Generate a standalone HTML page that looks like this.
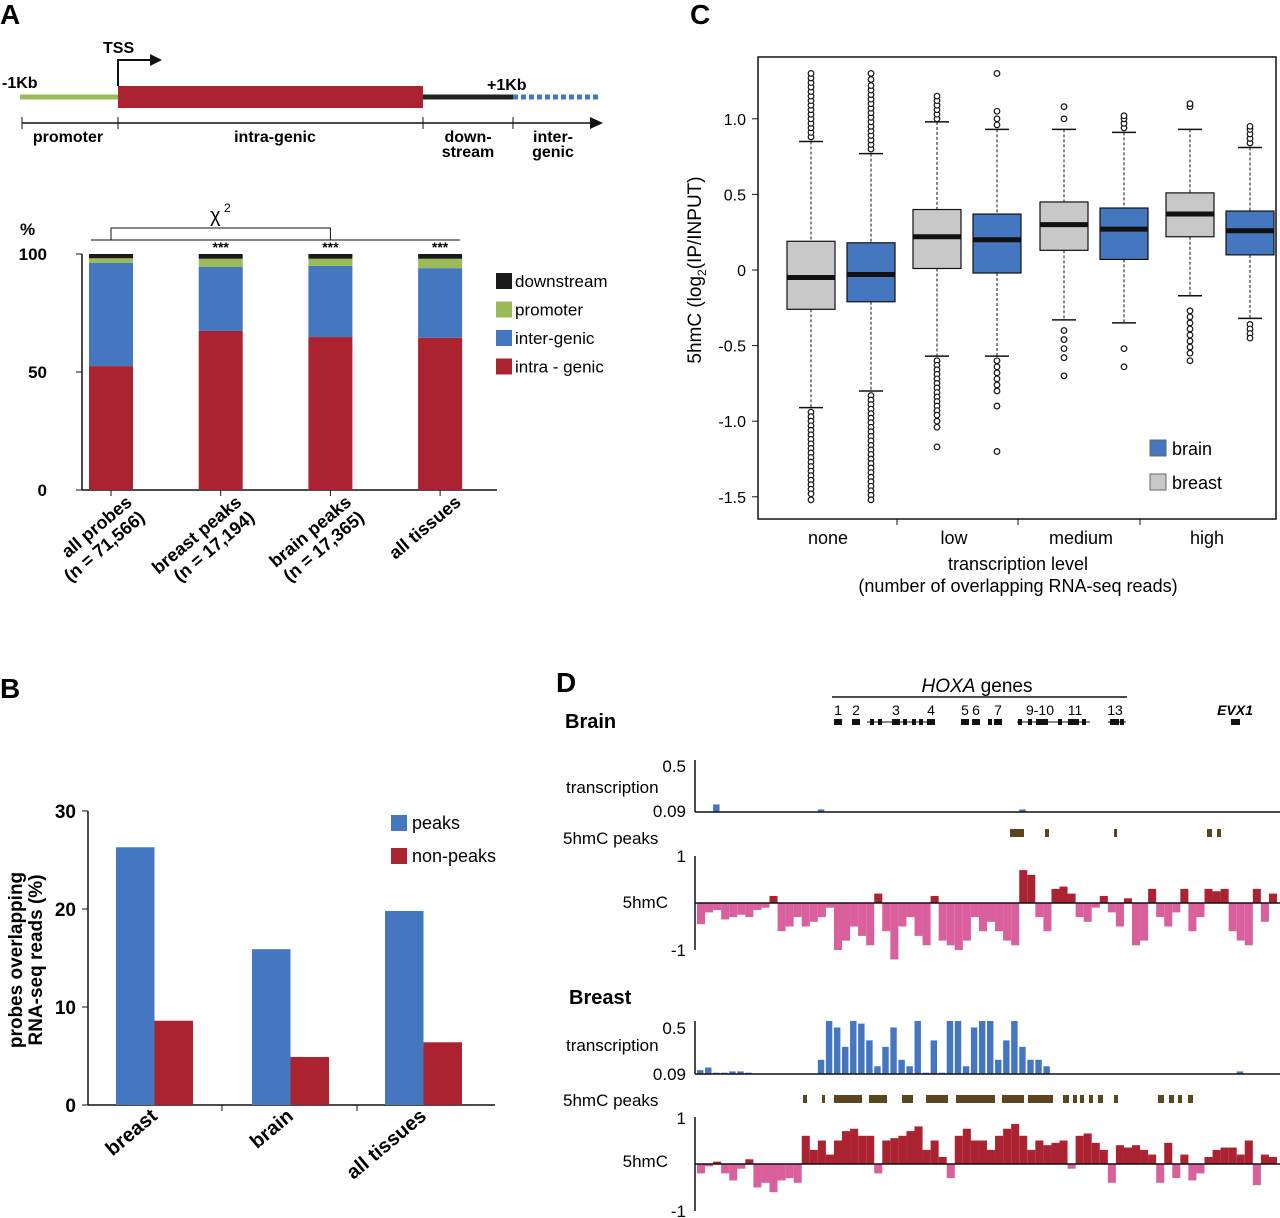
<!DOCTYPE html>
<html><head><meta charset="utf-8"><style>
body{margin:0;background:#fff}
svg{display:block;font-family:"Liberation Sans",Arial,sans-serif}
</style></head><body>
<svg id="fig" width="1280" height="1218" viewBox="0 0 1280 1218" xmlns="http://www.w3.org/2000/svg">
<!-- Panel letters -->
<text x="0" y="24" font-size="28" font-weight="bold">A</text>
<text x="0" y="698" font-size="28" font-weight="bold">B</text>
<text x="690" y="24" font-size="28" font-weight="bold">C</text>
<text x="556" y="692" font-size="28" font-weight="bold">D</text>

<!-- Gene diagram A -->
<g>
<line x1="20" y1="97" x2="118" y2="97" stroke="#9bbb59" stroke-width="5"/>
<rect x="118" y="86" width="305" height="22" fill="#ab2231"/>
<line x1="423" y1="97" x2="513" y2="97" stroke="#222" stroke-width="5"/>
<line x1="513" y1="97" x2="600" y2="97" stroke="#4577c0" stroke-width="5" stroke-dasharray="5,3"/>
<polyline points="118,86 118,60 152,60" fill="none" stroke="#111" stroke-width="2"/>
<polygon points="150,54 162,60 150,66" fill="#111"/>
<text x="103" y="53" font-size="16" font-weight="bold">TSS</text>
<text x="2" y="88" font-size="16" font-weight="bold">-1Kb</text>
<text x="487" y="90" font-size="16" font-weight="bold">+1Kb</text>
<line x1="22" y1="123" x2="596" y2="123" stroke="#111" stroke-width="1.5"/>
<polygon points="590,117 603,123 590,129" fill="#111"/>
<line x1="22" y1="117" x2="22" y2="129" stroke="#111"/><line x1="118" y1="117" x2="118" y2="129" stroke="#111"/>
<line x1="423" y1="117" x2="423" y2="129" stroke="#111"/><line x1="513" y1="117" x2="513" y2="129" stroke="#111"/>
<g font-size="16" font-weight="bold" text-anchor="middle">
<text x="68" y="142">promoter</text><text x="275" y="142">intra-genic</text>
<text x="468" y="142">down-</text><text x="468" y="157">stream</text>
<text x="553" y="142">inter-</text><text x="553" y="157">genic</text></g>
</g>
<g id="chartA"></g>
<g id="chartB"></g>
<g id="chartC"></g>
<g id="chartD"></g>
</svg>
<script>
// ---------- Panel A data ----------
const aCats = ["all probes|(n = 71,566)","breast peaks|(n = 17,194)","brain peaks|(n = 17,365)","all tissues"];
const aIntra = [52.5, 67.4, 64.8, 64.5];
const aInter = [43.7, 27.1, 30.2, 29.5];
const aPromoter = [2.0, 3.5, 3.0, 4.0];
const aDown = [1.8, 2.0, 2.0, 2.0];
const aTicks = [0, 50, 100];
// ---------- Panel B data ----------
const bCats = ["breast","brain","all tissues"];
const bPeaks = [26.3, 15.9, 19.8];
const bNonPeaks = [8.6, 4.9, 6.4];
const bTicks = [0, 10, 20, 30];
// ---------- Panel C data ----------
const cGroups = ["none","low","medium","high"];
const cTicks = [1.0, 0.5, 0, -0.5, -1.0, -1.5];
const cTickLabels = ["1.0","0.5","0","-0.5","-1.0","-1.5"];
// order per group: breast, brain ; [whiskerLo, q1, median, q3, whiskerHi]
const cBreast = [[-0.91,-0.26,-0.05,0.19,0.85],[-0.57,0.01,0.22,0.40,0.98],[-0.33,0.13,0.30,0.45,0.93],[-0.17,0.22,0.37,0.51,0.93]];
const cBrain  = [[-0.80,-0.21,-0.03,0.18,0.77],[-0.57,-0.02,0.20,0.37,0.93],[-0.35,0.07,0.27,0.41,0.91],[-0.32,0.10,0.26,0.39,0.81]];
const cBreastOut = [
 [0.88,0.91,0.94,0.97,1.0,1.03,1.06,1.09,1.12,1.15,1.18,1.21,1.24,1.27,1.3,-0.94,-0.97,-1.0,-1.03,-1.06,-1.09,-1.12,-1.15,-1.18,-1.21,-1.24,-1.27,-1.3,-1.33,-1.36,-1.39,-1.42,-1.45,-1.48,-1.52],
 [1.0,1.03,1.06,1.09,1.12,1.15,-0.6,-0.63,-0.66,-0.69,-0.72,-0.75,-0.78,-0.81,-0.84,-0.87,-0.9,-0.93,-0.96,-1.0,-1.04,-1.17],
 [1.0,1.08,-0.4,-0.46,-0.52,-0.58,-0.7],
 [1.08,1.1,-0.27,-0.31,-0.35,-0.39,-0.43,-0.47,-0.51,-0.55,-0.6]];
const cBrainOut = [
 [0.8,0.83,0.86,0.89,0.92,0.95,0.98,1.01,1.04,1.07,1.1,1.13,1.16,1.19,1.22,1.26,1.3,-0.83,-0.86,-0.89,-0.92,-0.95,-0.98,-1.01,-1.04,-1.07,-1.1,-1.13,-1.16,-1.19,-1.22,-1.25,-1.28,-1.31,-1.34,-1.37,-1.4,-1.43,-1.46,-1.49,-1.52],
 [0.96,1.0,1.05,1.3,-0.6,-0.64,-0.68,-0.72,-0.76,-0.8,-0.9,-1.2],
 [0.94,0.97,1.0,1.02,-0.52,-0.64],
 [0.84,0.87,0.9,0.93,0.95,-0.36,-0.39,-0.42,-0.45]];
// ---------- Panel D data ----------
const dBrainTx = [0,0,0.15,0,0,0,0,0,0,0,0,0,0,0,0,0.11,0,0,0,0,0,0,0,0,0,0,0,0,0,0,0,0,0,0,0,0,0,0,0,0,0.11,0,0,0,0,0,0,0,0,0,0,0,0,0,0,0,0,0,0,0,0,0,0,0,0,0,0,0,0,0,0,0];
const dBreastTx = [0.12,0.14,0.10,0.10,0.11,0.11,0.10,0.09,0.09,0.09,0.09,0.09,0.09,0.09,0.09,0.20,0.50,0.45,0.30,0.50,0.48,0.35,0.15,0.30,0.45,0.20,0.15,0.50,0.10,0.35,0.10,0.50,0.50,0.15,0.45,0.50,0.50,0.20,0.35,0.50,0.30,0.20,0.20,0.15,0.09,0.09,0.09,0.09,0.09,0.09,0.09,0.09,0.09,0.09,0.09,0.09,0.09,0.09,0.09,0.09,0.09,0.09,0.09,0.09,0.09,0.09,0.09,0.11,0.09,0.09,0.09,0.09];
const dBrain5hmC = [-0.45,-0.2,-0.15,-0.35,-0.3,-0.25,-0.3,-0.15,-0.1,0.15,-0.6,-0.5,-0.3,-0.5,-0.4,-0.3,-0.1,-1.0,-0.8,-0.5,-0.7,-0.9,0.2,-0.6,-1.2,-0.5,-0.3,-0.7,-0.9,0.15,-0.8,-0.9,-1.0,-0.8,-0.3,-0.6,-0.4,-0.6,-0.8,-0.9,0.7,0.6,-0.3,-0.6,0.3,0.35,0.2,-0.3,-0.4,-0.1,0.15,-0.2,-0.5,0.1,-0.9,-0.8,0.3,-0.3,-0.5,-0.2,0.3,-0.6,-0.3,0.3,0.25,0.3,-0.6,-0.8,-0.9,0.3,-0.4,0.2];
const dBreast5hmC = [-0.2,-0.05,0.05,-0.2,-0.35,-0.1,0.1,-0.5,-0.4,-0.6,-0.35,-0.3,-0.4,0.6,0.3,0.5,0.2,0.5,0.7,0.75,0.6,0.6,-0.2,0.5,0.55,0.6,0.7,0.8,0.3,0.5,0.15,-0.3,0.6,0.75,0.5,0.5,0.3,0.6,0.75,0.85,0.6,0.3,0.5,0.4,0.45,0.5,-0.1,0.6,0.65,0.45,0.3,-0.4,0.4,0.35,0.4,0.3,0.2,-0.4,0.45,-0.3,0.2,-0.35,-0.2,0.15,0.3,0.35,0.35,0.2,0.5,-0.45,0.2,0.15];
const dBrainPeakStart = [1010,1045,1114,1207,1217];
const dBrainPeakEnd   = [1024,1049,1117,1212,1221];
const dBreastPeakStart = [803,822,834,869,902,926,956,1002,1028,1063,1073,1080,1089,1098,1114,1158,1169,1178,1188];
const dBreastPeakEnd   = [807,825,862,887,913,948,995,1024,1053,1069,1077,1084,1093,1103,1118,1164,1174,1182,1193];
const geneNames = ["1","2","3","4","5","6","7","9-10","11","13"];
const genePos = [838,856,896,931,965,976,998,1040,1075,1115];

const NS="http://www.w3.org/2000/svg";
function mk(parent,tag,attrs,txt){const e=document.createElementNS(NS,tag);for(const k in attrs)e.setAttribute(k,attrs[k]);if(txt!==undefined)e.textContent=txt;parent.appendChild(e);return e;}
const RED="#ab2231",BLUE="#4577c0",GREEN="#9bbb59",PINK="#d9609c",BROWN="#5c4620",GRAY="#c8c8c8";

// ===== Panel A =====
(function(){
const g=document.getElementById('chartA');
const y=v=>490-v*2.36; const cx=i=>111+i*109.7; const w=44;
mk(g,'line',{x1:82,y1:254,x2:82,y2:490,stroke:'#111','stroke-width':1.5});
mk(g,'line',{x1:82,y1:490,x2:497,y2:490,stroke:'#111','stroke-width':1.5});
mk(g,'text',{x:20,y:235,'font-size':17,'font-weight':'bold'},'%');
aTicks.forEach(t=>{mk(g,'line',{x1:76,y1:y(t),x2:82,y2:y(t),stroke:'#111'});
 const e=mk(g,'text',{x:47,y:y(t)+6,'font-size':17,'font-weight':'bold','text-anchor':'end'},t);
 
 });
aCats.forEach((c,i)=>{
 let base=0;
 [[aIntra,RED],[aInter,BLUE],[aPromoter,GREEN],[aDown,'#1a1a1a']].forEach(([arr,col])=>{
  const r=mk(g,'rect',{x:cx(i)-w/2,y:y(base+arr[i]),width:w,height:arr[i]*2.36,fill:col});
  
  
  base+=arr[i];});
 mk(g,'line',{x1:cx(i),y1:490,x2:cx(i),y2:496,stroke:'#111'});
 const parts=c.split('|');
 const t=mk(g,'text',{transform:`translate(${cx(i)+22},${504}) rotate(-40)`,'font-size':18,'font-weight':'bold','text-anchor':'end'});
 
 
 mk(t,'tspan',{x:0,y:0},parts[0]);
 if(parts[1]) mk(t,'tspan',{x:0,y:20},parts[1]);
 if(i>0) mk(g,'text',{x:cx(i),y:252,'font-size':14,'font-weight':'bold','text-anchor':'middle'},'***');
});
mk(g,'polyline',{points:`${cx(0)-20},240 ${cx(3)+20},240`,stroke:'#111',fill:'none'});
mk(g,'polyline',{points:`${cx(0)},240 ${cx(0)},228 ${cx(2)},228 ${cx(2)},240`,stroke:'#111',fill:'none'});
mk(g,'text',{x:210,y:222,'font-size':20},'χ');
mk(g,'text',{x:224,y:212,'font-size':12},'2');
const leg=[['downstream','#1a1a1a'],['promoter',GREEN],['inter-genic',BLUE],['intra - genic',RED]];
leg.forEach((l,i)=>{const yy=273+i*28.5;
 const r=mk(g,'rect',{x:496,y:yy,width:16,height:16,fill:l[1]});
 
 
 mk(g,'text',{x:515,y:yy+14,'font-size':17},l[0]);});
})();

// ===== Panel B =====
(function(){
const g=document.getElementById('chartB');
const y=v=>1105-v*9.8; const x0=[116,252,385]; const w=38.5;
mk(g,'line',{x1:88,y1:811,x2:88,y2:1105,stroke:'#111','stroke-width':1.5});
mk(g,'line',{x1:88,y1:1105,x2:495,y2:1105,stroke:'#111','stroke-width':1.5});
bTicks.forEach(t=>{mk(g,'line',{x1:82,y1:y(t),x2:88,y2:y(t),stroke:'#111'});
 mk(g,'text',{x:76,y:y(t)+7,'font-size':19,'font-weight':'bold','text-anchor':'end'},t);});
bCats.forEach((c,i)=>{
 const r1=mk(g,'rect',{x:x0[i],y:y(bPeaks[i]),width:w,height:bPeaks[i]*9.8,fill:BLUE});
 
 
 const r2=mk(g,'rect',{x:x0[i]+w,y:y(bNonPeaks[i]),width:w,height:bNonPeaks[i]*9.8,fill:RED});
 
 
 mk(g,'text',{transform:`translate(${x0[i]+w+4},${1118}) rotate(-40)`,'font-size':20,'font-weight':'bold','text-anchor':'end'},c);
});
mk(g,'line',{x1:222,y1:1105,x2:222,y2:1111,stroke:'#111'});
mk(g,'line',{x1:357,y1:1105,x2:357,y2:1111,stroke:'#111'});
const t=mk(g,'text',{transform:'translate(22,960) rotate(-90)','font-size':19,'font-weight':'bold','text-anchor':'middle'});


mk(t,'tspan',{x:0,y:0},'probes overlapping');
mk(t,'tspan',{x:0,y:20},'RNA-seq reads (%)');
[['peaks',BLUE],['non-peaks',RED]].forEach((l,i)=>{const yy=815+i*33;
 const r=mk(g,'rect',{x:391,y:yy,width:16,height:16,fill:l[1]});
 
 
 mk(g,'text',{x:412,y:yy+14,'font-size':18},l[0]);});
})();

// ===== Panel C =====
(function(){
const g=document.getElementById('chartC');
const y=v=>270-v*151.2;
mk(g,'rect',{x:758,y:57,width:518,height:462,fill:'none',stroke:'#111','stroke-width':1.5});
cTicks.forEach((t,i)=>{mk(g,'line',{x1:752,y1:y(t),x2:758,y2:y(t),stroke:'#111'});
 mk(g,'text',{x:746,y:y(t)+6,'font-size':16,'text-anchor':'end'},cTickLabels[i]);});
[897,1018,1140].forEach(x=>mk(g,'line',{x1:x,y1:519,x2:x,y2:525,stroke:'#111'}));
const gx=[828,954,1081,1207];
cGroups.forEach((c,i)=>{
 mk(g,'text',{x:gx[i],y:544,'font-size':18,'text-anchor':'middle'},c);
 [[cBreast,cBreastOut,GRAY,gx[i]-41],[cBrain,cBrainOut,BLUE,gx[i]+19]].forEach(([d,o,col,bx])=>{
  const s=d[i]; const w=48; const m=bx+w/2;
  mk(g,'line',{x1:m,y1:y(s[4]),x2:m,y2:y(s[3]),stroke:'#111','stroke-dasharray':'3,2'});
  mk(g,'line',{x1:m,y1:y(s[1]),x2:m,y2:y(s[0]),stroke:'#111','stroke-dasharray':'3,2'});
  mk(g,'line',{x1:m-12,y1:y(s[4]),x2:m+12,y2:y(s[4]),stroke:'#111','stroke-width':1.5});
  mk(g,'line',{x1:m-12,y1:y(s[0]),x2:m+12,y2:y(s[0]),stroke:'#111','stroke-width':1.5});
  const r=mk(g,'rect',{x:bx,y:y(s[3]),width:w,height:y(s[1])-y(s[3]),fill:col,stroke:'#111','stroke-width':1.2});
  
  
  mk(g,'line',{x1:bx,y1:y(s[2]),x2:bx+w,y2:y(s[2]),stroke:'#111','stroke-width':5});
  o[i].forEach(v=>mk(g,'circle',{cx:m,cy:y(v),r:2.8,fill:'#fff',stroke:'#111','stroke-width':1.2}));
 });
});
mk(g,'text',{x:1018,y:570,'font-size':18,'text-anchor':'middle'},'transcription level');
mk(g,'text',{x:1018,y:592,'font-size':18,'text-anchor':'middle'},'(number of overlapping RNA-seq reads)');
const t=mk(g,'text',{transform:'translate(701,270) rotate(-90)','font-size':19,'text-anchor':'middle'});


t.innerHTML='5hmC (log<tspan font-size="12" dy="5">2</tspan><tspan dy="-5">(IP/INPUT)</tspan>';
[['brain',BLUE],['breast',GRAY]].forEach((l,i)=>{const yy=440+i*34;
 const r=mk(g,'rect',{x:1150,y:yy,width:16,height:16,fill:l[1],stroke:'#666'});
 
 
 mk(g,'text',{x:1172,y:yy+15,'font-size':18},l[0]);});
})();

// ===== Panel D =====
(function(){
const g=document.getElementById('chartD');
const X0=697,X1=1277;
mk(g,'line',{x1:832,y1:697,x2:1127,y2:697,stroke:'#111','stroke-width':1.5});
mk(g,'text',{x:977,y:692,'font-size':19,'text-anchor':'middle'}).innerHTML='<tspan font-style="italic">HOXA</tspan> genes';
geneNames.forEach((n,i)=>{mk(g,'text',{x:genePos[i],y:715,'font-size':14,'text-anchor':'middle'},n);
 mk(g,'rect',{x:genePos[i]-4,y:719,width:8,height:6,fill:'#111'});});
mk(g,'line',{x1:867,y1:722,x2:935,y2:722,stroke:'#111'});
mk(g,'line',{x1:1017,y1:722,x2:1090,y2:722,stroke:'#111'});
mk(g,'line',{x1:1108,y1:722,x2:1126,y2:722,stroke:'#111'});
[872,880,905,914,921,990,1020,1030,1046,1060,1070,1084,1112,1122].forEach(x=>mk(g,'rect',{x:x-2,y:719,width:4,height:6,fill:'#111'}));
mk(g,'text',{x:1235,y:715,'font-size':14,'font-style':'italic','font-weight':'bold','text-anchor':'middle'},'EVX1');
mk(g,'rect',{x:1231,y:719,width:9,height:6,fill:'#111'});
mk(g,'text',{x:565,y:728,'font-size':20,'font-weight':'bold'},'Brain');
mk(g,'text',{x:569,y:1004,'font-size':20,'font-weight':'bold'},'Breast');

function tx(data,base,top,label0y){
 const bw=(X1-X0)/data.length;
 mk(g,'line',{x1:695,y1:top,x2:695,y2:base,stroke:'#111','stroke-width':1.5});
 data.forEach((v,i)=>{if(v>0.09){const h=(v-0.09)/(0.5-0.09)*(base-top);
  const r=mk(g,'rect',{x:X0+i*bw,y:base-h,width:bw*0.8,height:h,fill:BLUE});
  
  }});
 mk(g,'line',{x1:695,y1:base,x2:1280,y2:base,stroke:'#111','stroke-width':1.5});
}
function hm(data,zero,unit){
 const bw=(X1-X0)/data.length;
 mk(g,'line',{x1:695,y1:zero-unit,x2:695,y2:zero+unit,stroke:'#111','stroke-width':1.5});
 data.forEach((v,i)=>{const h=Math.abs(v)*unit;
  const r=mk(g,'rect',{x:X0+i*bw,y:v>0?zero-h:zero,width:bw,height:h,fill:v>0?RED:PINK});
  
  });
 mk(g,'line',{x1:695,y1:zero,x2:1280,y2:zero,stroke:'#111','stroke-width':1.5});
}
function peaks(s,e,yy){s.forEach((v,i)=>{
 const r=mk(g,'rect',{x:v,y:yy,width:e[i]-v,height:8,fill:BROWN});
 
 });}

tx(dBrainTx,812,760);
hm(dBrain5hmC,903,47);
peaks(dBrainPeakStart,dBrainPeakEnd,829);
tx(dBreastTx,1074,1021);
hm(dBreast5hmC,1164,47);
peaks(dBreastPeakStart,dBreastPeakEnd,1095);
const L=[[566,793,'transcription','start'],[686,772,'0.5','end'],[686,817,'0.09','end'],[563,844,'5hmC peaks','start'],[686,862,'1','end'],[668,908,'5hmC','end'],[686,956,'-1','end'],
[566,1051,'transcription','start'],[686,1034,'0.5','end'],[686,1080,'0.09','end'],[563,1106,'5hmC peaks','start'],[686,1124,'1','end'],[668,1167,'5hmC','end'],[686,1217,'-1','end']];
L.forEach(l=>mk(g,'text',{x:l[0],y:l[1],'font-size':17,'text-anchor':l[3]},l[2]));
})();
</script>
</body></html>
